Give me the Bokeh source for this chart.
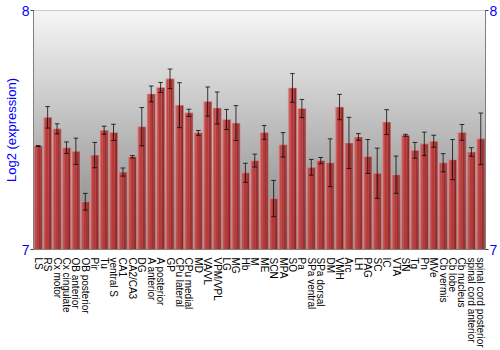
import numpy as np
from bokeh.plotting import figure
from bokeh.models import Range1d, FixedTicker, LinearAxis
from bokeh.embed import file_html
from bokeh.resources import INLINE

regions = ["LS", "RS", "Cx motor", "Cx cingulate", "OB anterior", "OB posterior", "Pir", "Tu",
           "ventral S", "CA1", "CA2/CA3", "DG", "A anterior", "A posterior", "GP", "CPu lateral",
           "CPu medial", "MD", "VA/VL", "VPM/VPL", "LG", "MG", "Hb", "M", "ME", "SCN", "MPA", "SO",
           "Pa", "SPa ventral", "SPa dorsal", "DM", "VMH", "Arc", "LH", "PAG", "SC", "IC", "VTA",
           "SN", "Tg", "Pn", "MVe", "Cb vermis", "Cb lobe", "Cb nucleus", "spinal cord anterior",
           "spinal cord posterior"]
expression = [7.433, 7.553, 7.505, 7.426, 7.411, 7.200, 7.395, 7.499,
              7.490, 7.324, 7.388, 7.514, 7.651, 7.678, 7.714, 7.604,
              7.572, 7.488, 7.619, 7.592, 7.544, 7.529, 7.321, 7.372, 7.490, 7.213, 7.438, 7.676,
              7.590, 7.344, 7.372, 7.363, 7.596, 7.446, 7.471, 7.389, 7.319, 7.533, 7.313,
              7.478, 7.415, 7.442, 7.453, 7.363, 7.376, 7.490, 7.408,
              7.463]
error = [0.002, 0.045, 0.021, 0.024, 0.055, 0.035, 0.053, 0.017,
         0.034, 0.017, 0.005, 0.080, 0.033, 0.021, 0.041, 0.094,
         0.015, 0.010, 0.061, 0.067, 0.042, 0.073, 0.040, 0.027, 0.029, 0.076, 0.051, 0.060,
         0.038, 0.033, 0.013, 0.100, 0.053, 0.107, 0.014, 0.071, 0.105, 0.052, 0.078,
         0.004, 0.033, 0.049, 0.025, 0.038, 0.084, 0.033, 0.018,
         0.108]
y_ticks = [7, 8]

n = len(regions)
xs = np.arange(n) + 0.5
vals = np.array(expression)
errs = np.array(error)

p = figure(width=500, height=350, output_backend="svg", toolbar_location=None,
           x_range=Range1d(0, n), y_range=Range1d(7, 8),
           min_border_left=28, min_border_right=14, min_border_top=10, min_border_bottom=100)
p.background_fill_color = "white"
p.border_fill_color = "white"
p.outline_line_color = "#808080"
p.grid.visible = False

# background vertical gradient (decoration)
nb = 60
edges = np.linspace(7, 8, nb + 1)
cols = []
for i in range(nb):
    t = (i + 0.5) / nb  # 0 bottom, 1 top
    c = int(round(0x80 + (0xf6 - 0x80) * t))
    cols.append("#%02x%02x%02x" % (c, c, c))
p.quad(left=0, right=n, bottom=edges[:-1], top=edges[1:], fill_color=cols, line_color=cols, line_width=1)

# bars with horizontal gradient strips
hw = 0.44
strips = [(0.0, 0.12, "#cc5c5a"), (0.12, 0.3, "#c44646"), (0.3, 0.6, "#b93838"),
          (0.6, 0.8, "#a52c2c"), (0.8, 0.92, "#8e2222"), (0.92, 1.0, "#7a1c1c")]
for a, b, c in strips:
    p.quad(left=xs - hw + 2 * hw * a, right=xs - hw + 2 * hw * b, bottom=7, top=vals,
           fill_color=c, line_color=None)
p.vbar(x=xs, width=2 * hw, top=vals, bottom=7, fill_color=None,
       line_color="#e8a0a0", line_alpha=0.55, line_width=1)

# error bars
up = vals + errs
lo = vals - errs
cap = 0.25
p.segment(x0=xs, y0=lo, x1=xs, y1=up, line_color="black", line_alpha=0.75, line_width=1)
p.segment(x0=xs - cap, y0=up, x1=xs + cap, y1=up, line_color="black", line_alpha=0.75, line_width=1)
p.segment(x0=xs - cap, y0=lo, x1=xs + cap, y1=lo, line_color="black", line_alpha=0.75, line_width=1)

# axes
p.xaxis.ticker = FixedTicker(ticks=list(xs))
p.xaxis.major_label_overrides = {float(x): r for x, r in zip(xs, regions)}
p.xaxis.major_label_orientation = "vertical"
p.xaxis.major_tick_line_color = None
p.xaxis.minor_tick_line_color = None
p.xaxis.axis_line_color = "#808080"
p.xaxis.major_label_text_font = "Liberation Sans"
p.xaxis.major_label_text_font_size = "10px"
p.xaxis.major_label_text_color = "black"
p.xaxis.major_label_standoff = 2

p.yaxis[0].ticker = FixedTicker(ticks=y_ticks)
ry = LinearAxis(ticker=FixedTicker(ticks=y_ticks))
p.add_layout(ry, "right")
for ax in p.yaxis:
    ax.major_label_text_color = "#0000ff"
    ax.major_label_text_font = "Liberation Sans"
    ax.major_label_text_font_size = "14px"
    ax.major_tick_out = 3
    ax.major_tick_in = 0
    ax.minor_tick_line_color = None
    ax.axis_line_color = "#808080"
    ax.major_tick_line_color = "#404040"
    ax.major_label_standoff = 1
p.yaxis[0].axis_label = "Log2 (expression)"
p.yaxis[0].axis_label_text_color = "#0000ff"
p.yaxis[0].axis_label_text_font = "Liberation Sans"
p.yaxis[0].axis_label_text_font_size = "13px"
p.yaxis[0].axis_label_text_font_style = "normal"
p.yaxis[0].axis_label_standoff = 0

open("out.html", "w").write(file_html(p, INLINE))
